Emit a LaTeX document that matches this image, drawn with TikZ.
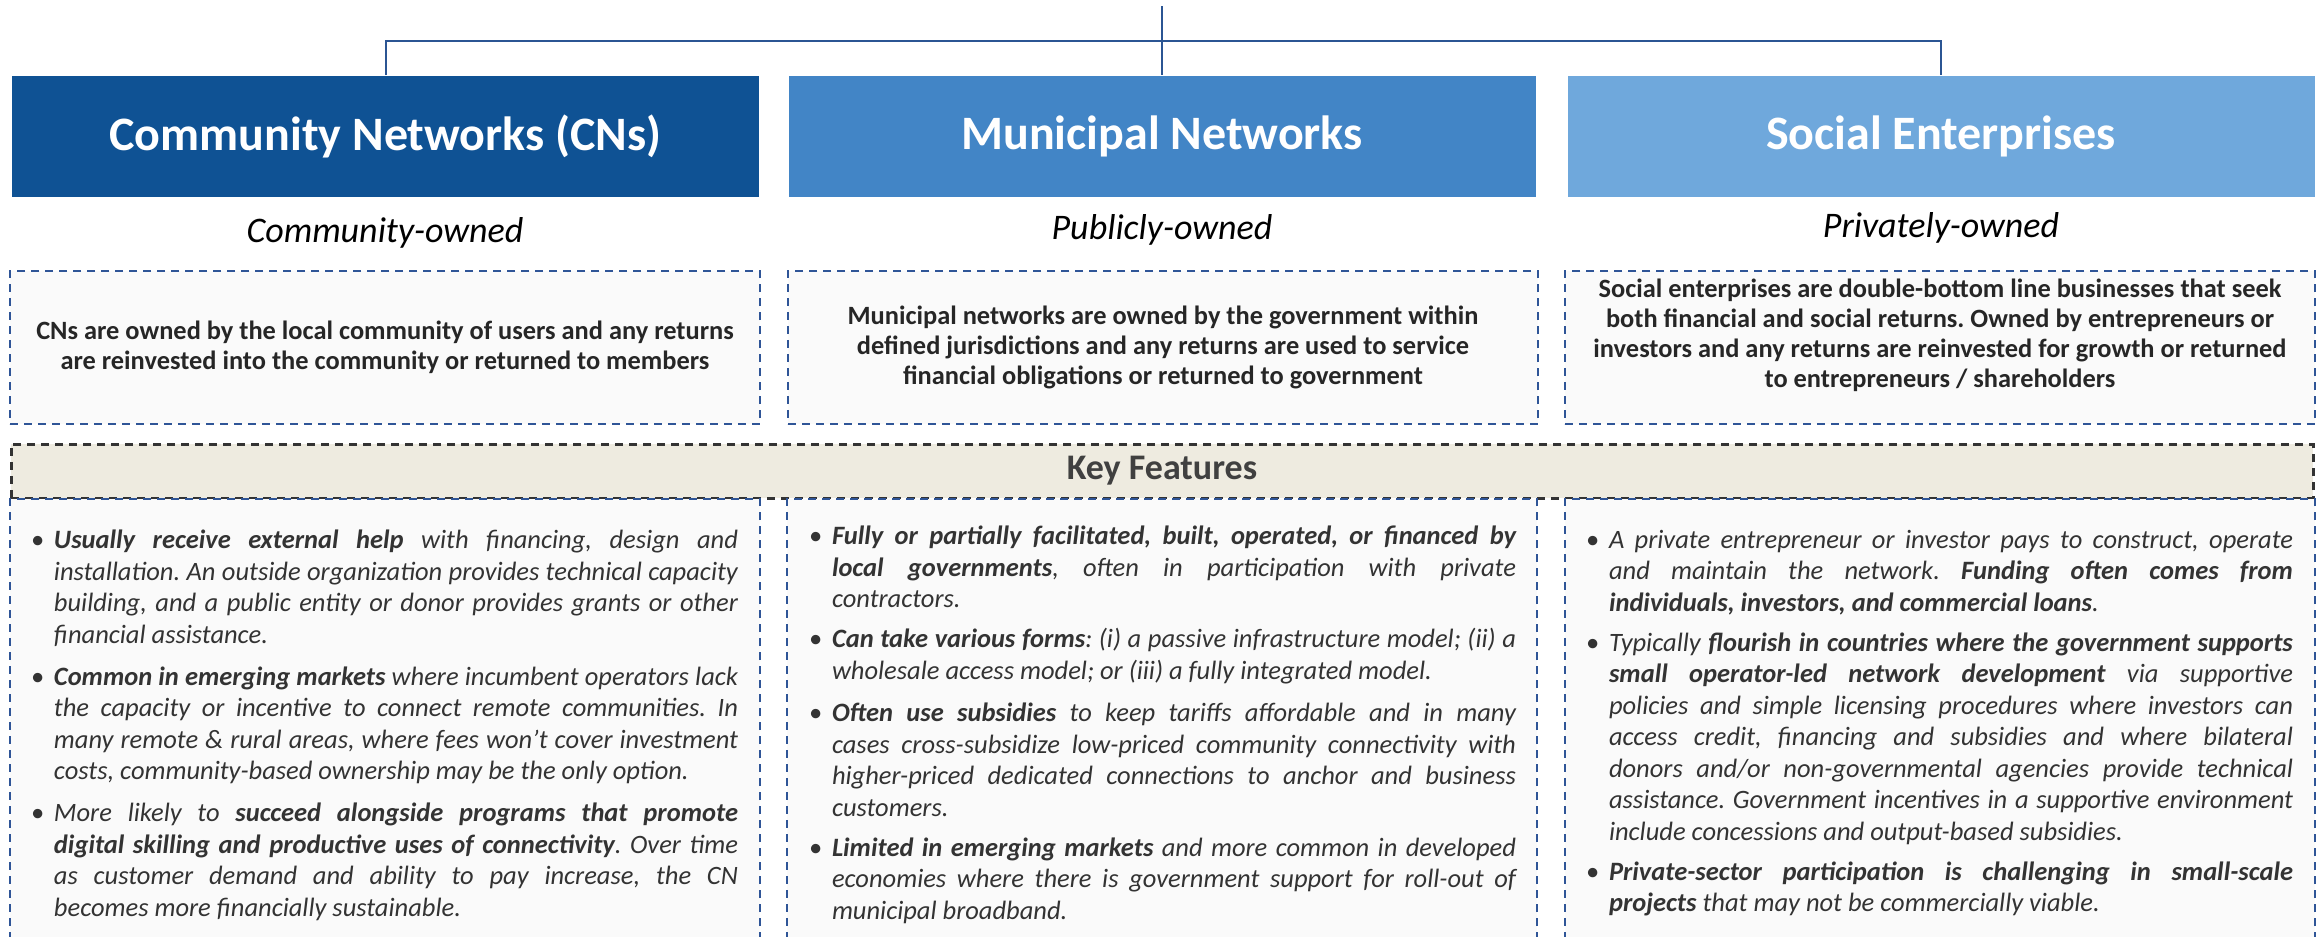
\documentclass[tikz,border=0pt]{standalone}
\usepackage{fontspec}
\setmainfont{Carlito}
\usetikzlibrary{positioning}
\definecolor{cnblue}{HTML}{0F5294}
\definecolor{mnblue}{HTML}{4285C6}
\definecolor{seblue}{HTML}{6FA8DC}
\definecolor{linkblue}{HTML}{2B5593}
\definecolor{dashblue}{HTML}{2F5597}
\definecolor{keyfill}{HTML}{EEEBE0}
\definecolor{boxfill}{HTML}{FAFAFA}
\definecolor{txtgrey}{HTML}{262626}
\definecolor{featgrey}{HTML}{333333}
\definecolor{keygrey}{HTML}{404040}
\setlength{\parindent}{0pt}
\hyphenpenalty=10000
\frenchspacing
\newcommand{\featfont}{\fontsize{13.25}{15.75}\selectfont\itshape}
\newcommand{\bulletmark}{\leavevmode\llap{\textbullet\hspace{5pt}}}
\tikzset{
  every picture/.style={line width=1pt},
  head/.style={fill=#1, text=white, font=\fontsize{24}{28}\selectfont\bfseries, minimum width=373.5pt, minimum height=60.5pt, inner sep=0pt},
  owner/.style={font=\fontsize{18}{22}\selectfont\itshape},
  descbox/.style={draw=dashblue, fill=boxfill, dash pattern=on 4pt off 3pt, minimum width=375pt, minimum height=76.5pt, inner sep=0pt},
  desctext/.style={font=\fontsize{13.2}{15}\selectfont\bfseries, text=txtgrey, align=center, inner sep=0pt},
  keybar/.style={draw=black!80, fill=keyfill, dash pattern=on 4pt off 3pt, line width=1.5pt, minimum width=1151pt, minimum height=27pt, inner sep=0pt, text=keygrey, font=\fontsize{18}{22}\selectfont\bfseries},
  featbox/.style={draw=dashblue, fill=boxfill, dash pattern=on 4pt off 3pt, minimum width=375pt, minimum height=230.5pt, inner sep=0pt},
  feattext/.style={anchor=north west, inner sep=0pt, text width=342pt, align=justify, text=featgrey, font=\featfont},
  link/.style={draw=linkblue, line width=1pt},
}
\begin{document}
\begin{tikzpicture}[x=0.5pt, y=-0.5pt]
  \useasboundingbox (0,0) rectangle (2320,937);
  \node[head=cnblue] (cn) at (385.5,136.5) {Community Networks (CNs)};
  \node[head=mnblue] (mn) at (1162,136.5) {Municipal Networks};
  \node[head=seblue] (se) at (1941,136.5) {Social Enterprises};
  \coordinate (top) at (1162,6);
  \coordinate (bus) at (1162,41);
  \draw[link] (cn.north) |- (bus) -| (se.north);
  \draw[link] (top) -- (mn.north);
  \node[owner] (cnown) at (385,233) {Community-owned};
  \node[owner] (mnown) at (1162,230) {Publicly-owned};
  \node[owner] (seown) at (1941,228) {Privately-owned};
  \node[descbox] (cndesc) at (385,347.5) {};
  \node[descbox] (mndesc) at (1163,347.5) {};
  \node[descbox] (sedesc) at (1940,347.5) {};
  \node[desctext] at (cndesc.center) {CNs are owned by the local community of users and any returns\\are reinvested into the community or returned to members};
  \node[desctext] at (mndesc.center) {Municipal networks are owned by the government within\\defined jurisdictions and any returns are used to service\\financial obligations or returned to government};
  \node[desctext] at ([yshift=6pt]sedesc.center) {Social enterprises are double-bottom line businesses that seek\\both financial and social returns. Owned by entrepreneurs or\\investors and any returns are reinvested for growth or returned\\to entrepreneurs / shareholders};
  \node[keybar] (key) at (1162,471) {Key Features};
  \foreach \x/\n in {385/cnfeat, 1162/mnfeat, 1940/sefeat} {\node[featbox] (\n) at (\x,729.5) {};}
  \node[feattext] at (53,529) {\bulletmark\textbf{Usually receive external help} with financing, design and \linebreak installation. An outside organization provides technical capacity \linebreak building, and a public entity or donor provides grants or other \linebreak financial assistance.\par\vspace{5.25pt}
    \bulletmark\textbf{Common in emerging markets} where incumbent operators lack \linebreak the capacity or incentive to connect remote communities. In \linebreak many remote \& rural areas, where fees won’t cover investment \linebreak costs, community-based ownership may be the only option.\par\vspace{5.25pt}
    \bulletmark More likely to \textbf{succeed alongside programs that promote \linebreak digital skilling and productive uses of connectivity}. Over time \linebreak as customer demand and ability to pay increase, the CN \linebreak becomes more financially sustainable.};
  \node[feattext] at (831,525) {\bulletmark\textbf{Fully or partially facilitated, built, operated, or financed by \linebreak local governments}, often in participation with private \linebreak contractors.\par\vspace{4.25pt}
    \bulletmark\textbf{Can take various forms}: (i) a passive infrastructure model; (ii) a \linebreak wholesale access model; or (iii) a fully integrated model.\par\vspace{5.5pt}
    \bulletmark\textbf{Often use subsidies} to keep tariffs affordable and in many \linebreak cases cross-subsidize low-priced community connectivity with \linebreak higher-priced dedicated connections to anchor and business \linebreak customers.\par\vspace{4.25pt}
    \bulletmark\textbf{Limited in emerging markets} and more common in developed \linebreak economies where there is government support for roll-out of \linebreak municipal broadband.};
  \node[feattext] at (1608,529) {\bulletmark A private entrepreneur or investor pays to construct, operate \linebreak and maintain the network. \textbf{Funding often comes from \linebreak individuals, investors, and commercial loans}.\par\vspace{4.25pt}
    \bulletmark Typically \textbf{flourish in countries where the government supports \linebreak small operator-led network development} via supportive \linebreak policies and simple licensing procedures where investors can \linebreak access credit, financing and subsidies and where bilateral \linebreak donors and/or non-governmental agencies provide technical \linebreak assistance. Government incentives in a supportive environment \linebreak include concessions and output-based subsidies.\par\vspace{4.25pt}
    \bulletmark\textbf{Private-sector participation is challenging in small-scale \linebreak projects} that may not be commercially viable.};
\end{tikzpicture}
\end{document}
